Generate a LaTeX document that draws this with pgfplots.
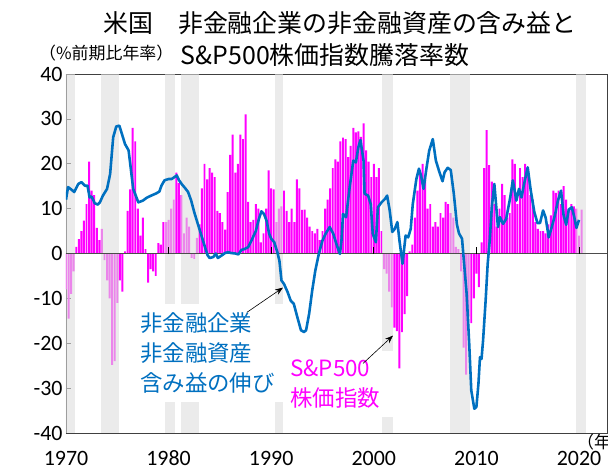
\documentclass[border=0pt]{standalone}
\usepackage{pgfplots}
\pgfplotsset{compat=1.18}
\usepackage{fontspec}
\setmainfont{Carlito}
\newfontfamily\jp{Noto Sans CJK JP}
\usetikzlibrary{arrows.meta}
\definecolor{lblue}{RGB}{0,112,192}
\definecolor{mag}{RGB}{255,0,255}
\definecolor{band}{RGB}{222,222,222}

\pgfplotstableread{
x y
1970.00 -8
1970.25 -14.5
1970.50 -9
1970.75 -4
1971.00 1.5
1971.25 3.2
1971.50 5
1971.75 7.3
1972.00 11
1972.25 20.5
1972.50 14
1972.75 13
1973.00 5.7
1973.25 3
1973.50 5.5
1973.75 -1.5
1974.00 -6
1974.25 -10
1974.50 -24.8
1974.75 -24
1975.00 -11
1975.25 -6
1975.50 -8.5
1975.75 0.5
1976.00 9.5
1976.25 14.3
1976.50 28
1976.75 25
1977.00 10
1977.25 4
1977.50 8
1977.75 1
1978.00 -6.5
1978.25 -3.5
1978.50 -4
1978.75 -5
1979.00 2.3
1979.25 2
1979.50 7
1979.75 7
1980.00 7.5
1980.25 10
1980.50 12
1980.75 18
1981.00 15.7
1981.25 13
1981.50 4.5
1981.75 8
1982.00 6
1982.25 -1
1982.50 -1.2
1982.75 3.5
1983.00 6.5
1983.25 14.5
1983.50 20
1983.75 16.5
1984.00 19
1984.25 18
1984.50 17
1984.75 9.5
1985.00 9
1985.25 7
1985.50 5.3
1985.75 13.7
1986.00 22
1986.25 26.5
1986.50 18
1986.75 20
1987.00 26.5
1987.25 25.5
1987.50 31
1987.75 11.5
1988.00 7
1988.25 7.5
1988.50 11
1988.75 10
1989.00 2.5
1989.25 4.5
1989.50 10
1989.75 18.5
1990.00 14.5
1990.25 14.3
1990.50 7
1990.75 10
1991.00 10.5
1991.25 14
1991.50 9.5
1991.75 7
1992.00 10
1992.25 7
1992.50 16.5
1992.75 14.5
1993.00 9.7
1993.25 9.8
1993.50 8
1993.75 6
1994.00 5
1994.25 4.5
1994.50 5.5
1994.75 3
1995.00 5
1995.25 10
1995.50 12
1995.75 14.5
1996.00 19
1996.25 21
1996.50 20.5
1996.75 25
1997.00 25.8
1997.25 25.5
1997.50 21.5
1997.75 24
1998.00 28
1998.25 27
1998.50 27.2
1998.75 26
1999.00 29
1999.25 23
1999.50 20.5
1999.75 17
2000.00 20
2000.25 17
2000.50 19
2000.75 5
2001.00 -3.5
2001.25 -4.5
2001.50 -8.5
2001.75 -12
2002.00 -16.5
2002.25 -17.3
2002.50 -25.6
2002.75 -17.5
2003.00 -13.5
2003.25 -9.5
2003.50 0.5
2003.75 2
2004.00 8
2004.25 14
2004.50 18.5
2004.75 20
2005.00 17
2005.25 10
2005.50 11
2005.75 6
2006.00 7
2006.25 6
2006.50 9
2006.75 8
2007.00 11.5
2007.25 11
2007.50 9
2007.75 8
2008.00 1.5
2008.25 1
2008.50 -4
2008.75 -21
2009.00 -27
2009.25 -14
2009.50 -15.5
2009.75 -10
2010.00 -4.5
2010.25 -7.5
2010.50 2.5
2010.75 19
2011.00 27.5
2011.25 19.7
2011.50 16
2011.75 11
2012.00 6
2012.25 10
2012.50 15.5
2012.75 13
2013.00 8
2013.25 9
2013.50 21
2013.75 20
2014.00 11
2014.25 19
2014.50 17
2014.75 20
2015.00 19
2015.25 13
2015.50 12
2015.75 7
2016.00 5.5
2016.25 5
2016.50 5
2016.75 4.5
2017.00 6.5
2017.25 8.5
2017.50 14
2017.75 13.5
2018.00 14
2018.25 11
2018.50 15
2018.75 12
2019.00 9.5
2019.25 11
2019.50 10.5
2019.75 10
2020.00 4
2020.25 9.8
}\spbars

\pgfplotstableread{
x y
1970.0 12
1970.2 14.8
1970.55 14.2
1970.8 13.7
1971.2 15.5
1971.5 15.9
1971.85 15.1
1972.1 15.1
1972.3 12.5
1972.5 12.7
1972.8 11.2
1973.1 10.9
1973.3 11.4
1973.6 12.9
1974.0 14.4
1974.3 17.7
1974.6 25.9
1974.9 28.3
1975.2 28.5
1975.4 27
1975.75 24.4
1976.1 23
1976.3 19.2
1976.55 14.4
1977.05 11.4
1977.5 11.8
1977.85 12.4
1978.3 12.9
1978.8 13.4
1979.1 13.8
1979.3 15.1
1979.6 16.3
1980.0 16.6
1980.3 16.6
1980.55 17
1980.8 17.4
1981.0 16.4
1981.3 15.4
1981.6 14.6
1981.9 13.7
1982.2 11.8
1982.5 9.2
1982.7 7.7
1983.05 5.1
1983.4 2.5
1983.8 -0.4
1984.0 -1
1984.35 -0.8
1984.6 0
1984.8 -1
1985.2 -0.4
1985.5 0.1
1985.8 0.3
1986.1 0.1
1986.5 0
1986.8 -0.2
1987.1 0.8
1987.4 1.0
1987.75 1.4
1988.1 3
1988.5 5
1988.8 7.7
1989.05 9.4
1989.3 8.8
1989.55 7.3
1989.8 4.4
1990.0 3.3
1990.3 2.5
1990.6 0.3
1990.8 -1.6
1991.0 -6
1991.25 -6.8
1991.6 -8.6
1991.9 -10.5
1992.2 -11.2
1992.55 -14.2
1992.9 -17.1
1993.2 -17.5
1993.4 -17.1
1993.7 -13.4
1994.0 -8.2
1994.3 -3.8
1994.65 0
1995.0 2.9
1995.3 4.4
1995.7 5.9
1996.05 4.4
1996.4 1.8
1996.7 -0.1
1996.85 2.9
1997.0 8.8
1997.3 8.1
1997.65 14.8
1998.0 20.7
1998.25 20.3
1998.5 23.7
1998.7 25.3
1999.0 20.7
1999.1 13.3
1999.45 12.9
1999.7 11
1999.9 4.4
2000.2 2.5
2000.4 10.3
2000.75 11.4
2001.1 12.2
2001.3 12.9
2001.55 9.6
2001.8 4.8
2002.05 5.5
2002.3 7
2002.5 2.9
2002.8 -2.3
2003.1 4
2003.35 3.6
2003.6 5.5
2003.8 11
2004.15 16.6
2004.4 18.9
2004.6 17.4
2004.85 14.4
2005.1 18.5
2005.4 22.9
2005.75 25.5
2006.05 20.7
2006.4 18.1
2006.7 16.1
2006.9 18.1
2007.2 19.1
2007.5 18.6
2007.8 13.3
2008.1 6.5
2008.3 4.5
2008.6 3.3
2008.75 -0.8
2009.05 -9
2009.3 -20.1
2009.5 -30.5
2009.8 -34.6
2010.0 -34.2
2010.2 -29
2010.35 -23.1
2010.5 -23.5
2010.65 -19.4
2010.9 -10.5
2011.1 -2.3
2011.3 2.9
2011.5 10.3
2011.75 15.5
2012.1 5.9
2012.3 8.1
2012.6 6.6
2012.9 7.7
2013.3 12.5
2013.55 16.3
2013.9 11.8
2014.15 14.4
2014.4 12.5
2014.65 15.5
2015.0 19.2
2015.3 14
2015.65 9.2
2015.95 6.8
2016.2 6.8
2016.5 9.6
2016.75 8
2017.05 3.6
2017.35 5.9
2017.65 8.5
2017.95 11.8
2018.25 14
2018.5 8.5
2018.75 6.4
2019.0 9.8
2019.3 10.3
2019.55 8
2019.75 5.7
2020.0 7.5
}\gainline

\begin{document}
\begin{tikzpicture}
\begin{axis}[
  scale only axis, width=541bp, height=359bp,
  at={(0,0)}, anchor=south west,
  xmin=1970, xmax=2022.73, ymin=-40, ymax=40,
  xtick={1970,1980,...,2020}, ytick={-40,-30,...,40},
  xtick style={draw=none},
  ytick pos=left,
  ytick style={black!75, line width=0.6pt},
  major tick length=5bp,
  axis line style={black!75, line width=0.8pt},
  tick label style={font=\fontsize{22}{22}\selectfont, /pgf/number format/assume math mode=true},
  x tick label style={/pgf/number format/1000 sep={}, yshift=-14.5bp},
]
% S&P500 bars
\addplot[ybar, bar width=0.19, bar shift=0pt, fill=mag, draw=none] table[x=x,y=y]{\spbars};
% recession bands
\addplot[draw=none, fill=band, fill opacity=0.6] coordinates {(1969.8,-40) (1969.8,40) (1970.88,40) (1970.88,-40)};
\addplot[draw=none, fill=band, fill opacity=0.6] coordinates {(1973.4,-40) (1973.4,40) (1975.17,40) (1975.17,-40)};
\addplot[draw=none, fill=band, fill opacity=0.6] coordinates {(1979.65,-40) (1979.65,40) (1980.62,40) (1980.62,-40)};
\addplot[draw=none, fill=band, fill opacity=0.6] coordinates {(1981.2,-40) (1981.2,40) (1982.96,40) (1982.96,-40)};
\addplot[draw=none, fill=band, fill opacity=0.6] coordinates {(1990.37,-40) (1990.37,40) (1991.15,40) (1991.15,-40)};
\addplot[draw=none, fill=band, fill opacity=0.6] coordinates {(2000.8,-40) (2000.8,40) (2001.87,40) (2001.87,-40)};
\addplot[draw=none, fill=band, fill opacity=0.6] coordinates {(2007.43,-40) (2007.43,40) (2009.38,40) (2009.38,-40)};
\addplot[draw=none, fill=band, fill opacity=0.6] coordinates {(2019.7,-40) (2019.7,40) (2020.68,40) (2020.68,-40)};
% zero line and its ticks
\addplot[black!70, line width=1pt] coordinates {(1970,0) (2022.73,0)};
\addplot[black, line width=0.8pt, ycomb] coordinates {(1980,1.4) (1990,1.4) (2000,1.4) (2010,1.4) (2020,1.4)};
% labels
\node[anchor=north west, fill=white, inner xsep=5bp, inner ysep=9bp, text width=139bp, align=left,
      text=lblue, font=\jp\fontsize{22.5}{30}\selectfont] at (axis cs:1976.73,-11.1)
      {非金融企業\\非金融資産\\含み益の伸び};
\node[anchor=north west, fill=white, inner xsep=5bp, inner ysep=9bp, text width=101bp, align=left,
      text=mag, font=\jp\fontsize{22.5}{30}\selectfont] at (axis cs:1991.35,-21.6)
      {S\&P500\\株価指数};
% unrealised gain line
\addplot[lblue, line width=2.6pt, line join=round] table[x=x,y=y]{\gainline};
% arrows
\draw[-{Stealth[length=8bp,width=6bp]}, line width=0.6pt] (axis cs:1987.64,-13.1) -- (axis cs:1991.15,-7.6);
\draw[-{Stealth[length=8bp,width=6bp]}, line width=0.6pt] (axis cs:1998.95,-24.5) -- (axis cs:2001.87,-18.3);
\end{axis}
\node[font=\jp\fontsize{25}{25}\selectfont] at (274bp,409.5bp) {米国　非金融企業の非金融資産の含み益と};
\node[font=\jp\fontsize{25}{25}\selectfont] at (259bp,378bp) {S\&P500株価指数騰落率数};
\node[font=\jp\fontsize{17}{17}\selectfont, anchor=west, inner sep=0pt] at (-27bp,380bp) {（\%前期比年率）};
\node[font=\jp\fontsize{17}{17}\selectfont, anchor=west, inner sep=0pt] at (511bp,-9bp) {（年）};
\pgfresetboundingbox
\path[use as bounding box] (-66bp,-36bp) rectangle (542bp,433bp);
\end{tikzpicture}
\end{document}
